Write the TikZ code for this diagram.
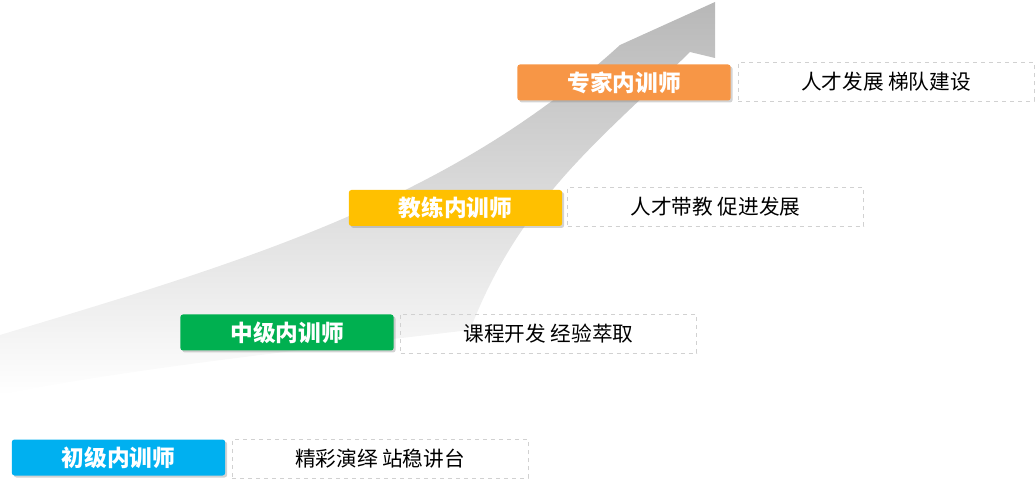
\documentclass[tikz,border=0pt]{standalone}
\usepackage{fontspec}
\setmainfont{Noto Sans CJK SC}
\usetikzlibrary{shadows}
\definecolor{cblue}{HTML}{00B0F0}
\definecolor{cgreen}{HTML}{00B050}
\definecolor{cyellow}{HTML}{FFC000}
\definecolor{corange}{HTML}{F79646}
\begin{document}
\begin{tikzpicture}[x=0.75pt,y=-0.75pt,
  lvl/.style={rounded corners=2pt,minimum width=160pt,minimum height=27pt,inner sep=0pt,text=white,font=\fontsize{17}{19}\selectfont\bfseries,drop shadow={opacity=0.35,shadow xshift=1.5pt,shadow yshift=-1.5pt}},
  desc/.style={draw=black!18,dashed,minimum width=222pt,minimum height=29pt,inner sep=0pt,font=\fontsize{15.5}{17}\selectfont}]
\useasboundingbox (0,0) rectangle (1036,502);
\shade[top color=black!28,middle color=black!9,bottom color=white]
  (0,335) .. controls (250,260) and (450,200) .. (620,45)
  -- (715,2) -- (715,58) -- (690,52)
  .. controls (600,140) and (520,200) .. (470,330)
  .. controls (300,350) and (120,370) .. (0,395) -- cycle;
\node[lvl,fill=cblue] (a) at (118.5,457.5) {初级内训师};
\node[desc] (ad) at (380,459) {精彩演绎 站稳讲台};
\node[lvl,fill=cgreen] (b) at (287,332.5) {中级内训师};
\node[desc] (bd) at (548.5,333.5) {课程开发 经验萃取};
\node[lvl,fill=cyellow] (c) at (455.5,208) {教练内训师};
\node[desc] (cd) at (715.5,207) {人才带教 促进发展};
\node[lvl,fill=corange] (d) at (624,82.5) {专家内训师};
\node[desc] (dd) at (886,82) {人才发展 梯队建设};
\end{tikzpicture}
\end{document}
